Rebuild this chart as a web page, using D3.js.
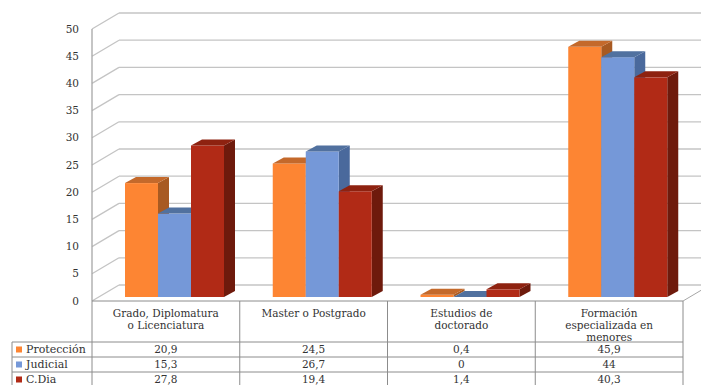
<!DOCTYPE html>
<html>
<head>
<meta charset="utf-8">
<script src="https://cdn.jsdelivr.net/npm/d3@7"></script>
<style>
  body { margin: 0; background: #fff; }
  svg text { font-family: "DejaVu Serif", serif; fill: #333; }
</style>
</head>
<body>
<script>
var categories = [
  ["Grado, Diplomatura", "o Licenciatura"],
  ["Master o Postgrado"],
  ["Estudios de", "doctorado"],
  ["Formación", "especializada en", "menores"]
];
var series = ["Protección", "Judicial", "C.Dia"];
var proteccion = [20.9, 24.5, 0.4, 45.9];
var judicial = [15.3, 26.7, 0, 44];
var cdia = [27.8, 19.4, 1.4, 40.3];
var valueLabels = [
  ["20,9", "24,5", "0,4", "45,9"],
  ["15,3", "26,7", "0", "44"],
  ["27,8", "19,4", "1,4", "40,3"]
];
var yTicks = [0, 5, 10, 15, 20, 25, 30, 35, 40, 45, 50];

var values = [proteccion, judicial, cdia];
var colors = [
  { front: "#fd8533", top: "#c4692b", side: "#a85a22" },
  { front: "#7598d8", top: "#51719f", side: "#4a699c" },
  { front: "#b12a16", top: "#8e2210", side: "#6e1a0c" }
];

var W = 701, H = 385;
var svg = d3.select("body").append("svg")
  .attr("width", W)
  .attr("height", H);

var left = 92, right = 683;
var depthX = 27, depthY = -16;
var barDX = 11, barDY = -6;

var yFront = d3.scaleLinear().domain([0, 50]).range([301, 29]);
var yBack = d3.scaleLinear().domain([0, 50]).range([301 + depthY, 29 + depthY]);
var yBar = d3.scaleLinear().domain([0, 50]).range([297, 24.5]);

var x = d3.scaleBand().domain(d3.range(categories.length)).range([left, right]);

var grid = svg.append("g").attr("class", "grid");

// back wall lines
grid.selectAll(".hline")
  .data(yTicks)
  .enter().append("line")
    .attr("x1", left + depthX)
    .attr("x2", right + depthX)
    .attr("y1", function(d) { return yBack(d); })
    .attr("y2", function(d) { return yBack(d); })
    .style("stroke", "#c4c4c4")
    .style("stroke-width", 1.3);

// side wall diagonals
grid.selectAll(".dline")
  .data(yTicks)
  .enter().append("line")
    .attr("x1", left)
    .attr("x2", left + depthX)
    .attr("y1", function(d) { return yFront(d); })
    .attr("y2", function(d) { return yBack(d); })
    .style("stroke", "#c4c4c4")
    .style("stroke-width", 1.3);

// floor right edge
grid.append("line")
  .attr("x1", right).attr("y1", yFront(0))
  .attr("x2", right + depthX).attr("y2", yBack(0))
  .style("stroke", "#a6a6a6")
  .style("stroke-width", 1);

// left axis line
grid.append("line")
  .attr("x1", left).attr("x2", left)
  .attr("y1", yFront(50)).attr("y2", yFront(0))
  .style("stroke", "#a6a6a6")
  .style("stroke-width", 1.3);

// y labels
svg.selectAll(".ylab")
  .data(yTicks)
  .enter().append("text")
    .attr("x", 79)
    .attr("y", function(d) { return yFront(d); })
    .attr("dy", "0.35em")
    .attr("text-anchor", "end")
    .style("font-size", "10.5px")
    .text(function(d) { return d; });

// bars
var bars = svg.append("g").attr("class", "bars");
categories.forEach(function(c, ci) {
  var inner = d3.scaleBand().domain(d3.range(series.length))
    .range([x(ci) + 33, x(ci) + 132]);
  series.forEach(function(s, si) {
    var v = values[si][ci];
    var x0 = inner(si), x1 = x0 + inner.bandwidth();
    var y0 = yBar(0), y1 = yBar(v);
    var g = bars.append("g");
    g.append("path")
      .attr("d", "M" + x1 + "," + y0 + "L" + (x1 + barDX) + "," + (y0 + barDY) +
        "L" + (x1 + barDX) + "," + (y1 + barDY) + "L" + x1 + "," + y1 + "Z")
      .style("fill", colors[si].side);
    g.append("rect")
      .attr("x", x0).attr("y", y1)
      .attr("width", x1 - x0).attr("height", y0 - y1)
      .style("fill", colors[si].front);
    g.append("path")
      .attr("d", "M" + x0 + "," + y1 + "L" + (x0 + barDX) + "," + (y1 + barDY) +
        "L" + (x1 + barDX) + "," + (y1 + barDY) + "L" + x1 + "," + y1 + "Z")
      .style("fill", colors[si].top);
  });
});

// data table
var table = svg.append("g").attr("class", "table");
var rowTop = 342, rowH = 15;
var lineColor = "#8c8c8c";

var hLines = [
  { y: 301, x1: left, x2: right },
  { y: rowTop, x1: 12, x2: right },
  { y: rowTop + rowH, x1: 12, x2: right },
  { y: rowTop + 2 * rowH, x1: 12, x2: right },
  { y: rowTop + 3 * rowH, x1: 12, x2: right }
];
table.selectAll(".th")
  .data(hLines)
  .enter().append("line")
    .attr("x1", function(d) { return d.x1; })
    .attr("x2", function(d) { return d.x2; })
    .attr("y1", function(d) { return d.y; })
    .attr("y2", function(d) { return d.y; })
    .style("stroke", lineColor);

var vx = d3.range(categories.length + 1).map(function(i) { return left + i * x.bandwidth(); });
table.selectAll(".tv")
  .data(vx)
  .enter().append("line")
    .attr("x1", function(d) { return d; })
    .attr("x2", function(d) { return d; })
    .attr("y1", 301)
    .attr("y2", rowTop + 3 * rowH)
    .style("stroke", lineColor);
table.append("line")
  .attr("x1", 12).attr("x2", 12)
  .attr("y1", rowTop).attr("y2", rowTop + 3 * rowH)
  .style("stroke", lineColor);

// header text
categories.forEach(function(c, ci) {
  var t = table.append("text")
    .attr("x", x(ci) + x.bandwidth() / 2)
    .attr("y", 317)
    .attr("text-anchor", "middle")
    .style("font-size", "10.5px");
  c.forEach(function(line, li) {
    t.append("tspan")
      .attr("x", x(ci) + x.bandwidth() / 2)
      .attr("dy", li === 0 ? 0 : 12)
      .text(line);
  });
});

// rows
series.forEach(function(s, si) {
  var cy = rowTop + si * rowH + rowH / 2;
  table.append("rect")
    .attr("x", 16).attr("y", cy - 3)
    .attr("width", 6).attr("height", 6)
    .style("fill", colors[si].front);
  table.append("text")
    .attr("x", 26).attr("y", cy)
    .attr("dy", "0.35em")
    .style("font-size", "11px")
    .text(s);
  valueLabels[si].forEach(function(v, ci) {
    table.append("text")
      .attr("x", x(ci) + x.bandwidth() / 2)
      .attr("y", cy)
      .attr("dy", "0.35em")
      .attr("text-anchor", "middle")
      .style("font-size", "10.5px")
      .text(v);
  });
});
</script>
</body>
</html>
